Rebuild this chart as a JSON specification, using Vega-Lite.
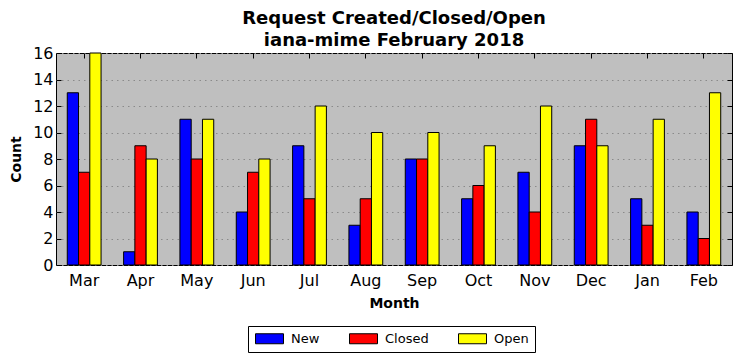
{
  "$schema": "https://vega.github.io/schema/vega-lite/v6.json",
  "autosize": "none",
  "width": 676,
  "height": 212,
  "padding": {"left": 56, "top": 53, "right": 9, "bottom": 96},
  "background": "white",
  "title": {
    "text": ["Request Created/Closed/Open", "iana-mime February 2018"],
    "font": "DejaVu Sans",
    "fontSize": 18,
    "fontWeight": "bold",
    "lineHeight": 22,
    "anchor": "middle",
    "frame": "group",
    "offset": -5,
    "color": "black"
  },
  "config": {
    "view": {"fill": "#bfbfbf", "stroke": "black", "strokeWidth": 1},
    "axis": {
      "labelFont": "DejaVu Sans",
      "titleFont": "DejaVu Sans",
      "labelColor": "black",
      "titleColor": "black",
      "labelFontSize": 16,
      "titleFontSize": 14,
      "titleFontWeight": "bold",
      "domain": false,
      "tickColor": "black",
      "tickSize": -5,
      "labelPadding": 8
    }
  },
  "data": {
    "values": [
      {"Month": "Mar", "Status": "New", "Count": 13},
      {"Month": "Mar", "Status": "Closed", "Count": 7},
      {"Month": "Mar", "Status": "Open", "Count": 16},
      {"Month": "Apr", "Status": "New", "Count": 1},
      {"Month": "Apr", "Status": "Closed", "Count": 9},
      {"Month": "Apr", "Status": "Open", "Count": 8},
      {"Month": "May", "Status": "New", "Count": 11},
      {"Month": "May", "Status": "Closed", "Count": 8},
      {"Month": "May", "Status": "Open", "Count": 11},
      {"Month": "Jun", "Status": "New", "Count": 4},
      {"Month": "Jun", "Status": "Closed", "Count": 7},
      {"Month": "Jun", "Status": "Open", "Count": 8},
      {"Month": "Jul", "Status": "New", "Count": 9},
      {"Month": "Jul", "Status": "Closed", "Count": 5},
      {"Month": "Jul", "Status": "Open", "Count": 12},
      {"Month": "Aug", "Status": "New", "Count": 3},
      {"Month": "Aug", "Status": "Closed", "Count": 5},
      {"Month": "Aug", "Status": "Open", "Count": 10},
      {"Month": "Sep", "Status": "New", "Count": 8},
      {"Month": "Sep", "Status": "Closed", "Count": 8},
      {"Month": "Sep", "Status": "Open", "Count": 10},
      {"Month": "Oct", "Status": "New", "Count": 5},
      {"Month": "Oct", "Status": "Closed", "Count": 6},
      {"Month": "Oct", "Status": "Open", "Count": 9},
      {"Month": "Nov", "Status": "New", "Count": 7},
      {"Month": "Nov", "Status": "Closed", "Count": 4},
      {"Month": "Nov", "Status": "Open", "Count": 12},
      {"Month": "Dec", "Status": "New", "Count": 9},
      {"Month": "Dec", "Status": "Closed", "Count": 11},
      {"Month": "Dec", "Status": "Open", "Count": 9},
      {"Month": "Jan", "Status": "New", "Count": 5},
      {"Month": "Jan", "Status": "Closed", "Count": 3},
      {"Month": "Jan", "Status": "Open", "Count": 11},
      {"Month": "Feb", "Status": "New", "Count": 4},
      {"Month": "Feb", "Status": "Closed", "Count": 2},
      {"Month": "Feb", "Status": "Open", "Count": 13}
    ]
  },
  "encoding": {
    "x": {
      "field": "Month",
      "type": "nominal",
      "sort": ["Mar", "Apr", "May", "Jun", "Jul", "Aug", "Sep", "Oct", "Nov", "Dec", "Jan", "Feb"],
      "scale": {"paddingInner": 0.4, "paddingOuter": 0.2},
      "title": "Month"
    },
    "xOffset": {
      "field": "Status",
      "type": "nominal",
      "sort": ["New", "Closed", "Open"],
      "scale": {"paddingInner": 0, "paddingOuter": 0}
    },
    "y": {
      "field": "Count",
      "type": "quantitative",
      "scale": {"domain": [0, 16], "nice": false},
      "title": "Count"
    }
  },
  "layer": [
    {
      "mark": {"type": "bar", "stroke": "black", "strokeWidth": 1},
      "encoding": {
        "x": {
          "field": "Month",
          "type": "nominal",
          "sort": ["Mar", "Apr", "May", "Jun", "Jul", "Aug", "Sep", "Oct", "Nov", "Dec", "Jan", "Feb"],
          "scale": {"paddingInner": 0.4, "paddingOuter": 0.2},
          "axis": {"labelAngle": 0, "labelPadding": 12, "titlePadding": 8},
          "title": "Month"
        },
        "y": {
          "field": "Count",
          "type": "quantitative",
          "scale": {"domain": [0, 16], "nice": false},
          "axis": {
            "values": [0, 2, 4, 6, 8, 10, 12, 14, 16],
            "grid": true,
            "gridColor": "#8a8a8a",
            "gridDash": [1.5, 4],
            "gridWidth": 1,
            "titlePadding": 9
          },
          "title": "Count"
        },
        "color": {
          "field": "Status",
          "type": "nominal",
          "sort": ["New", "Closed", "Open"],
          "scale": {"domain": ["New", "Closed", "Open"], "range": ["#0000ff", "#ff0000", "#ffff00"]},
          "legend": {
            "title": null,
            "orient": "none",
            "direction": "horizontal",
            "legendX": 192,
            "legendY": 273,
            "strokeColor": "black",
            "fillColor": "white",
            "padding": 6,
            "symbolType": "M-1,-1L4.6,-1L4.6,1L-1,1Z",
            "symbolSize": 100,
            "symbolStrokeColor": "black",
            "symbolStrokeWidth": 1,
            "symbolOpacity": 1,
            "labelFont": "DejaVu Sans",
            "labelFontSize": 13,
            "labelColor": "black",
            "labelOffset": 24,
            "columnPadding": 27,
            "cornerRadius": 0
          }
        }
      }
    },
    {
      "mark": {"type": "bar", "opacity": 0},
      "encoding": {
        "x": {
          "field": "Month",
          "type": "nominal",
          "sort": ["Mar", "Apr", "May", "Jun", "Jul", "Aug", "Sep", "Oct", "Nov", "Dec", "Jan", "Feb"],
          "axis": {"orient": "top", "labels": false, "title": null}
        },
        "y": {
          "field": "Count",
          "type": "quantitative",
          "axis": {"orient": "right", "labels": false, "title": null, "values": [0, 2, 4, 6, 8, 10, 12, 14, 16], "grid": false}
        }
      }
    }
  ],
  "resolve": {"axis": {"x": "independent", "y": "independent"}}
}
